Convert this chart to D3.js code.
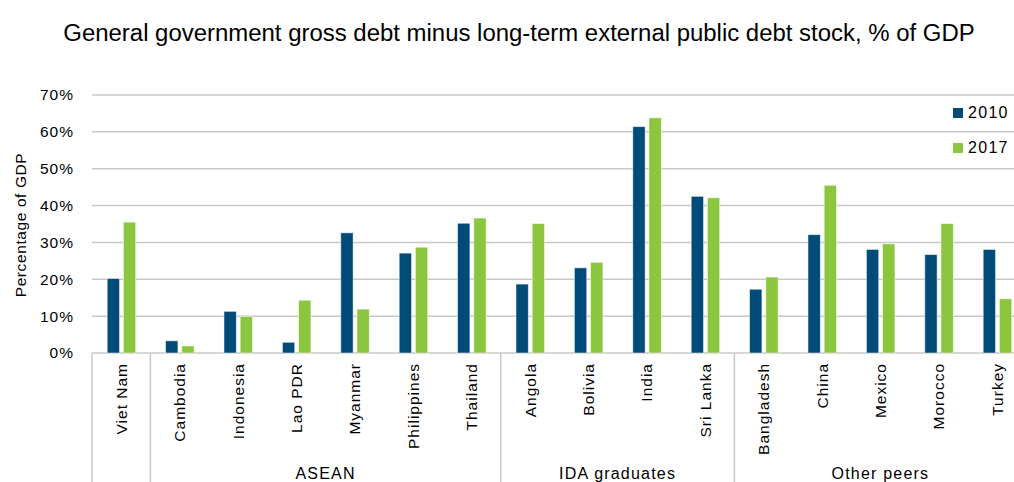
<!DOCTYPE html>
<html><head><meta charset="utf-8">
<script src="https://cdn.jsdelivr.net/npm/d3@7"></script>
<style>
html,body{margin:0;padding:0;background:#fff;}
svg{display:block;font-family:"Liberation Sans",Arial,sans-serif;}
</style></head>
<body><svg id="c" width="1014" height="482"></svg>
<script>
const categories = ["Viet Nam","Cambodia","Indonesia","Lao PDR","Myanmar","Philippines","Thailand","Angola","Bolivia","India","Sri Lanka","Bangladesh","China","Mexico","Morocco","Turkey"];
const groups = [
  {name:"", members:["Viet Nam"]},
  {name:"ASEAN", members:["Cambodia","Indonesia","Lao PDR","Myanmar","Philippines","Thailand"]},
  {name:"IDA graduates", members:["Angola","Bolivia","India","Sri Lanka"]},
  {name:"Other peers", members:["Bangladesh","China","Mexico","Morocco","Turkey"]}
];
const seriesNames = ["2010","2017"];
const values2010 = [20.2,3.3,11.3,2.9,32.6,27.1,35.2,18.7,23.1,61.4,42.5,17.3,32.1,28.1,26.7,28.1];
const values2017 = [35.5,1.9,9.9,14.3,11.9,28.7,36.6,35.1,24.6,63.8,42.1,20.6,45.5,29.6,35.1,14.7];
const yTicks = [0,10,20,30,40,50,60,70];
const colors = {"2010":"#004b78","2017":"#8cc63f"};
const chartTitle = "General government gross debt minus long-term external public debt stock, % of GDP";
const yTitle = "Percentage of GDP";

const svg = d3.select("#c");
const plotLeft = 92, bandStep = 58.4, plotTop = 95, plotBottom = 353;
const x = d3.scaleBand().domain(categories).range([plotLeft, plotLeft + bandStep*categories.length]).padding(0);
const x1 = d3.scaleBand().domain(seriesNames).range([x.bandwidth()/2 - 14, x.bandwidth()/2 + 14.5]).paddingInner(0.24);
const y = d3.scaleLinear().domain([0,70]).range([plotBottom, plotTop]);

// title
const t = svg.append("text").attr("x",519).attr("y",41).attr("text-anchor","middle")
  .attr("font-family","'Liberation Sans Narrow','Arial Narrow','Liberation Sans',Arial,sans-serif")
  .attr("font-size",26).attr("fill","#000").text(chartTitle);
const tw = t.node().getComputedTextLength();
if (tw > 0) t.attr("font-size", 26 * 912 / tw);

// gridlines
svg.append("g").selectAll("line").data(yTicks).join("line")
  .attr("x1",plotLeft).attr("x2",1014).attr("y1",d=>y(d)).attr("y2",d=>y(d))
  .attr("stroke","#c8c8c8").attr("stroke-width",1.5);

// y axis tick labels
const yAxis = d3.axisLeft(y).tickValues(yTicks).tickFormat(d=>d+"%").tickSize(0).tickPadding(0);
const ya = svg.append("g").attr("transform","translate(74,0)").call(yAxis);
ya.select(".domain").remove();
ya.selectAll("text").attr("font-size",15.5).attr("letter-spacing",1).attr("fill","#000")
  .attr("font-family","'Liberation Sans',Arial,sans-serif");

// y title
svg.append("text").attr("transform","translate(26,225) rotate(-90)").attr("text-anchor","middle")
  .attr("font-size",15.5).attr("letter-spacing",0.6).attr("fill","#000").text(yTitle);

// bars
const data = categories.map((c,i)=>({cat:c, vals:[{s:"2010",v:values2010[i]},{s:"2017",v:values2017[i]}]}));
const bg = svg.append("g").selectAll("g").data(data).join("g")
  .attr("transform",d=>`translate(${x(d.cat)},0)`);
bg.selectAll("rect").data(d=>d.vals).join("rect")
  .attr("x",d=>x1(d.s)).attr("width",x1.bandwidth())
  .attr("y",d=>y(d.v)).attr("height",d=>y(0)-y(d.v))
  .attr("fill",d=>colors[d.s]).attr("stroke","#ffffff").attr("stroke-opacity",0.6).attr("stroke-width",0.8);

// category labels
svg.append("g").selectAll("text").data(categories).join("text")
  .attr("transform",d=>`translate(${x(d)+x.bandwidth()/2+5.5},363) rotate(-90)`)
  .attr("text-anchor","end").attr("font-size",15.5).attr("letter-spacing",1).attr("fill","#000")
  .text(d=>d);

// group separators
const bounds = [x(categories[0])];
groups.forEach(g=>{ const last = g.members[g.members.length-1]; bounds.push(x(last)+x.bandwidth()); });
svg.append("g").selectAll("line").data(bounds).join("line")
  .attr("x1",d=>d).attr("x2",d=>d).attr("y1",plotBottom).attr("y2",482)
  .attr("stroke","#c8c8c8").attr("stroke-width",1.5);

// group labels
svg.append("g").selectAll("text").data(groups.filter(g=>g.name)).join("text")
  .attr("x",g=>(x(g.members[0]) + x(g.members[g.members.length-1]) + x.bandwidth())/2)
  .attr("y",479).attr("text-anchor","middle").attr("font-size",16).attr("letter-spacing",1.2).attr("fill","#000")
  .text(g=>g.name);

// legend
const lg = svg.append("g").selectAll("g").data(seriesNames).join("g")
  .attr("transform",(d,i)=>`translate(953,${108+i*35})`);
lg.append("rect").attr("width",10).attr("height",10).attr("fill",d=>colors[d]);
lg.append("text").attr("x",15).attr("y",10).attr("font-size",16).attr("letter-spacing",1.3).attr("fill","#000").text(d=>d);
</script></body></html>
